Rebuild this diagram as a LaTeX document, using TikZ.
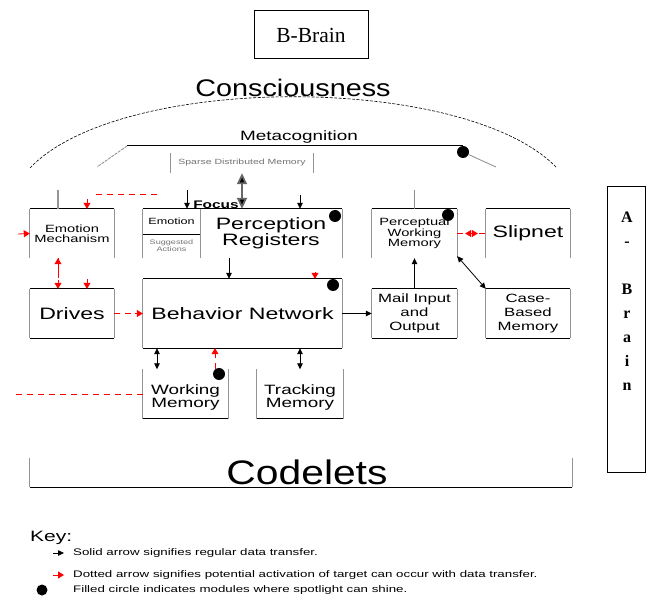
\documentclass[tikz,border=0pt]{standalone}
\usepackage{fontspec}
\setmainfont{Liberation Sans}[FakeStretch=1.4]
\newfontfamily\widesans{Liberation Sans}[FakeStretch=1.2]
\newfontfamily\serifbb{Liberation Serif}
\usetikzlibrary{arrows.meta}

\tikzset{
  fz/.style n args={2}{font=\fontsize{#1}{#2}\selectfont},
  box/.style={inner sep=0pt, align=center, minimum width=#1},
  rim/.style={draw=black, line width=1pt},
  side/.style={draw=black!42, line width=1.3pt},
  faint/.style={draw=black!45, line width=0.8pt},
  spot/.style={circle, fill=black, minimum size=12pt, inner sep=0pt},
  blk/.style={line width=0.8pt, -{Triangle[length=6pt,width=5.5pt]}},
  blkboth/.style={line width=0.8pt, {Triangle[length=6pt,width=5.5pt]}-{Triangle[length=6pt,width=5.5pt]}},
  bigboth/.style={draw=black!60, line width=1.8pt, {Triangle[length=11pt,width=10pt,fill=black]}-{Triangle[length=11pt,width=10pt,fill=black]}},
  rtip/.style={red, line width=0.8pt, -{Triangle[length=6pt,width=7pt]}},
  rboth/.style={red, line width=0.8pt, {Triangle[length=6pt,width=7pt]}-{Triangle[length=6pt,width=7pt]}},
  rdash/.style={red, line width=0.8pt, dash pattern=on 6pt off 5pt},
}

\begin{document}
\begin{tikzpicture}[x=1pt,y=-1pt]
\fill[white] (0,0) rectangle (650,601);
\useasboundingbox (0,0) rectangle (650,601);

% B-Brain and A-Brain frames
\node[draw, line width=1pt, minimum width=114pt, minimum height=48pt, inner sep=0pt,
      font=\serifbb\fontsize{21.5}{22}\selectfont] (bbrain) at (311,35) {B-Brain};
\node[draw, line width=1pt, minimum width=38pt, minimum height=285pt, inner sep=0pt] (abr) at (626,329.5) {};
\node[anchor=north, align=center, inner sep=0pt,
      font=\serifbb\bfseries\fontsize{16}{24}\selectfont] (abrtext) at (627,212) {A\\-\\[24pt]B\\r\\a\\i\\n};

% consciousness dome
\node[font=\widesans\fontsize{24}{24}\selectfont, inner sep=0pt] (cons) at (293,88) {Consciousness};
\coordinate (domeL) at (30,168);
\coordinate (domeR) at (557,168);
\draw[line width=0.6pt, dash pattern=on 3pt off 1.5pt] (domeL) .. controls (120,73) and (466,73) .. (domeR);

% metacognition
\node[fz={13.5}{14}, inner sep=0pt] (meta) at (299,137) {Metacognition};
\coordinate (mleft) at (127,146);
\coordinate (mright) at (463,146);
\coordinate (mlow) at (97,167);
\coordinate (mend) at (496,167);
\draw[rim] (mleft) -- (mright);
\draw[faint, dash pattern=on 3pt off 1pt] (mleft) -- (mlow);
\node[spot] (mdot) at (463,152) {};
\draw[faint] (mdot) -- (mend);

% sparse distributed memory
\node[box=142pt, minimum height=20pt, text=black!55, fz={7.5}{8}] (sdm) at (242,163) {Sparse Distributed Memory};
\draw[side] (sdm.north west) -- (sdm.south west) (sdm.north east) -- (sdm.south east);

% upper row of modules
\node[box=84pt, minimum height=49pt, fz={10.5}{9.5}] (em) at (72,233.5) {Emotion\\Mechanism};
\node[box=57pt, minimum height=25pt, fz={9}{9}] (emo) at (171.5,221.5) {Emotion};
\node[box=57pt, minimum height=24pt, text=black!55, fz={6.5}{7}] (sug) at (171.5,246) {Suggested\\Actions};
\node[box=142pt, minimum height=49pt, fz={16.5}{15}] (pr) at (271,233.5) {Perception\\Registers};
\node[box=85pt, minimum height=49pt, fz={10.5}{10.5}] (pwm) at (414.5,233.5) {Perceptual\\Working\\Memory};
\node[box=84pt, minimum height=49pt, fz={16.5}{16}] (slip) at (528,233.5) {Slipnet};

% middle row
\node[box=84pt, minimum height=49pt, fz={16.5}{16}] (drives) at (72,313.5) {Drives};
\node[box=199pt, minimum height=69pt, fz={16.5}{16}] (bn) at (242.5,313.5) {Behavior Network};
\node[box=85pt, minimum height=49pt, fz={12}{14}] (mail) at (414.5,313.5) {Mail Input\\and\\Output};
\node[box=84pt, minimum height=49pt, fz={12}{14}] (cbm) at (528,313.5) {Case-\\Based\\Memory};

% lower row
\node[box=85pt, minimum height=49pt] (wm) at (185.5,394) {};
\node[box=86pt, minimum height=49pt] (tm) at (300,394) {};
\node[align=center, inner sep=0pt, fz={13.5}{12}] (wmtext) at (185.5,397.5) {Working\\Memory};
\node[align=center, inner sep=0pt, fz={13.5}{12}] (tmtext) at (300,397.5) {Tracking\\Memory};

% codelets bracket
\node[box=542pt, minimum height=29pt] (cod) at (301,472.5) {};
\node[font=\widesans\fontsize{34}{34}\selectfont, inner sep=0pt] (codtext) at (307,472) {Codelets};

% module outlines: black top/bottom, grey sides
\foreach \n in {em,pwm,slip,drives,bn,mail,cbm}
  \draw[rim] (\n.north west) -- (\n.north east);
\draw[rim] (emo.north west) -- (pr.north east);
\draw[rim] (emo.south west) -- (emo.south east);
\foreach \n in {drives,bn,mail,cbm,wm,tm,cod}
  \draw[rim] (\n.south west) -- (\n.south east);
\foreach \n in {em,pwm,slip,drives,bn,mail,cbm,wm,tm,cod}
  \draw[side] (\n.north west) -- (\n.south west) (\n.north east) -- (\n.south east);
\draw[side] (emo.north west) -- (sug.south west);
\draw[side] (emo.north east) -- (sug.south east);
\draw[side] (pr.north east) -- (pr.south east);

\node[font=\bfseries\fontsize{11}{11}\selectfont, anchor=south, inner sep=0pt] (focus) at (216,209) {Focus};

% spotlight markers
\node[spot] (dpr) at (335,216) {};
\node[spot] (dpwm) at (448,215) {};
\node[spot] (dbn) at (333,285) {};
\node[spot] (dwm) at (219,374) {};

% connectors around the emotion mechanism
\coordinate (emtop) at (58,190);
\draw[side] (emtop) -- (emtop |- em.north);
\coordinate (fb) at (157,194);
\draw[rdash] (fb) -- (93,194);
\draw[rtip] (87,199) -- ([xshift=15pt]em.north);
\coordinate (emin) at (18,234);
\draw[rtip] (emin) -- (em.west);
\draw[rdash] ([xshift=-14pt]em.south) -- ([xshift=-14pt]drives.north);
\draw[rtip] ([xshift=-14pt,yshift=-3pt]em.south |- drives.north) ++(0,-14) -- ([xshift=-14pt]em.south);
\draw[rtip] ([xshift=-14pt]drives.north) ++(0,-9) -- ([xshift=-14pt]drives.north);
\coordinate (dr2) at (87,279);
\draw[rtip] (dr2) -- (dr2 |- drives.north);

% drives and perception into the behaviour network
\draw[rdash] (drives.east) -- ([xshift=-8pt]bn.west);
\draw[rtip] ([xshift=-8pt]bn.west) -- (bn.west);
\draw[blk] ([xshift=-42pt]pr.south) -- ([xshift=-42pt]pr.south |- bn.north);
\coordinate (bnred) at (315,272);
\draw[rtip] (bnred) -- (bnred |- bn.north);
\draw[blk] (bn.east) -- (mail.west);

% perceptual working memory links
\coordinate (pwmtop) at (414.5,190);
\draw[faint] (pwmtop) -- (pwm.north);
\draw[blk] (mail.north) -- (pwm.south);
\draw[rdash] (pwm.east) -- (slip.west);
\draw[rboth] ([xshift=8pt]pwm.east) -- ([xshift=-8pt]slip.west);
\draw[blkboth] ([yshift=2pt]pwm.south east) -- (cbm.north west);

% behaviour network and the memories below it
\draw[blkboth] ([xshift=-28.5pt]wm.north) -- ([xshift=-28.5pt]wm.north |- bn.south);
\draw[rdash] ([xshift=29.5pt]wm.north) -- ([xshift=29.5pt]wm.north |- bn.south);
\draw[rtip] ([xshift=29.5pt,yshift=-8pt]wm.north |- bn.south) -- ([xshift=29.5pt]wm.north |- bn.south);
\draw[blkboth] (tm.north) -- (tm.north |- bn.south);
\coordinate (wml) at (16,394);
\draw[rdash] (wml) -- (wm.west);

% arrows from metacognition into focus
\coordinate (fa) at (187,190);
\draw[blk] (fa) -- (fa |- emo.north);
\draw[bigboth] (sdm.south) -- (sdm.south |- pr.north);
\coordinate (fc) at (300,195);
\draw[blk] (fc) -- (fc |- pr.north);

% key
\node[anchor=west, fz={15}{15}, inner sep=0pt] (key) at (30,538) {Key:};
\coordinate (k1) at (53,553);
\coordinate (k1e) at (64,553);
\draw[blk] (k1) -- (k1e);
\node[anchor=west, fz={9.5}{10}, inner sep=0pt] (key1) at (73,553) {Solid arrow signifies regular data transfer.};
\coordinate (k2) at (53,575);
\coordinate (k2e) at (64,575);
\draw[rtip] (k2) -- (k2e);
\node[anchor=west, fz={9.5}{10}, inner sep=0pt] (key2) at (73,575) {Dotted arrow signifies potential activation of target can occur with data transfer.};
\node[spot, minimum size=11pt] (k3) at (42,590) {};
\node[anchor=west, fz={9.5}{10}, inner sep=0pt] (key3) at (73,590) {Filled circle indicates modules where spotlight can shine.};
\end{tikzpicture}
\end{document}
